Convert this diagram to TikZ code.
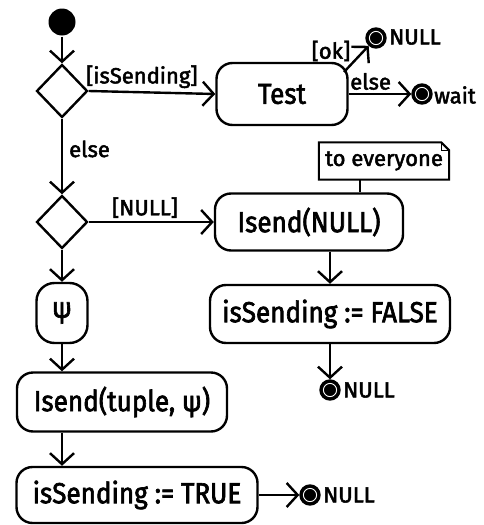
\documentclass[tikz,border=0pt]{standalone}
\usepackage{fontspec}
\setmainfont{Fira Sans}[FakeStretch=0.9,FakeBold=2.2]
\newfontfamily\lblfont{Fira Sans}[FakeBold=2.2]
\usetikzlibrary{shapes.geometric,arrows.meta}
\begin{document}
\begin{tikzpicture}[x=1pt,y=-1pt,line width=2.4pt,
  every node/.style={font=\fontsize{29}{31}\selectfont},
  act/.style={draw,rounded corners=16pt,inner sep=0pt,align=center},
  dec/.style={draw,diamond,inner sep=0pt,minimum width=51pt,minimum height=53pt},
  fin/.style={circle,draw,fill=black,inner sep=0pt,minimum size=19pt,line width=2.4pt,
    path picture={\draw[white,line width=0.9pt] (path picture bounding box.center) circle (6.6pt);}},
  lbl/.style={font=\lblfont\fontsize{22}{24}\selectfont,inner sep=0pt},
  flow/.style={-{Straight Barb[length=11pt,width=24pt]}},
]
\useasboundingbox (0,0) rectangle (484,525);
% nodes
\node[circle,fill=black,minimum size=27pt,inner sep=0pt] (start) at (62,22) {};
\node[dec] (d1) at (62,91) {};
\node[act,minimum width=131pt,minimum height=62pt] (test) at (282,94) {Test};
\node[fin] (fnull1) at (376,38) {};
\node[lbl,anchor=west] (tnull1) at (388,37) {NULL};
\node[fin] (fwait) at (422,94) {};
\node[lbl,anchor=west] (twait) at (433,95) {wait};
\node[dec] (d2) at (62,222) {};
\node[act,minimum width=188pt,minimum height=57pt] (isnull) at (309,222) {Isend(NULL)};
\node[lbl,minimum width=128pt,minimum height=35pt] (note) at (384,161) {to everyone};
\draw[line width=2pt] (note.north west) -- ([xshift=-8pt]note.north east) -- ([yshift=-8pt]note.north east) -- (note.south east) -- (note.south west) -- cycle;
\draw[line width=1pt] ([xshift=-8pt]note.north east) -- ([xshift=-8pt,yshift=-8pt]note.north east) -- ([yshift=-8pt]note.north east);
\node[act,minimum width=240pt,minimum height=58pt] (false) at (330,314) {isSending := FALSE};
\node[fin] (fnull2) at (330,390) {};
\node[lbl,anchor=west] (tnull2) at (342,390) {NULL};
\node[act,rounded corners=18pt,minimum width=51pt,minimum height=60pt] (psi) at (62,313) {ψ};
\node[act,minimum width=210pt,minimum height=59pt] (tuple) at (122,402) {Isend(tuple, ψ)};
\node[act,minimum width=241pt,minimum height=56pt] (true) at (137,495) {isSending := TRUE};
\node[fin] (fnull3) at (310,495) {};
\node[lbl,anchor=west] (tnull3) at (322,495) {NULL};
% connectors
\draw[flow] (start) -- (d1);
\draw[flow] (d1.east) -- node[lbl,above=3pt,pos=0.42] (l1) {[isSending]} (test.west);
\coordinate (okfrom) at (344,72);
\draw[flow] (okfrom) -- (fnull1);
\node[lbl] (lok) at (331,51) {[ok]};
\draw[flow] (test.east) -- node[lbl,above=3pt,pos=0.35] (lelse) {else} (fwait);
\draw[flow] (d1.south) -- node[lbl,right=6pt,pos=0.4] (lelse2) {else} (d2.north);
\draw[flow] (d2.east) -- node[lbl,above=3pt,pos=0.45] (lnull) {[NULL]} (isnull.west);
\draw (note.south -| 360,0) -- (isnull.north -| 360,0);
\draw[flow] (isnull.south -| false.north) -- (false.north);
\draw[flow] (false.south) -- (fnull2);
\draw[flow] (d2.south) -- (psi.north);
\draw[flow] (psi.south) -- (psi.south |- tuple.north);
\draw[flow] (tuple.south -| psi.south) -- (true.north -| psi.south);
\draw[flow] (true.east) -- (fnull3);
\end{tikzpicture}
\end{document}
